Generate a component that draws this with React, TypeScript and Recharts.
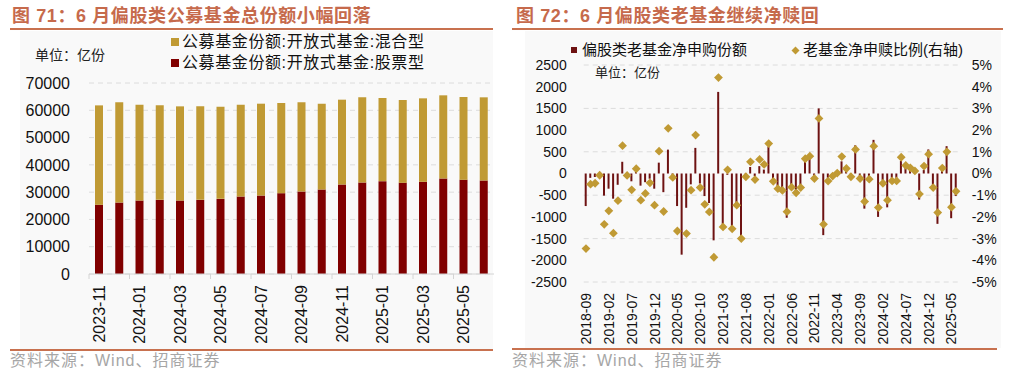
import {
  Bar,
  BarChart,
  CartesianGrid,
  ComposedChart,
  Line,
  XAxis,
  YAxis,
} from "recharts";

// ---- 图71：偏股类公募基金份额（亿份）
const SHARE_MONTHS = [
  "2023-11", "2023-12", "2024-01", "2024-02", "2024-03", "2024-04", "2024-05",
  "2024-06", "2024-07", "2024-08", "2024-09", "2024-10", "2024-11", "2024-12",
  "2025-01", "2025-02", "2025-03", "2025-04", "2025-05", "2025-06",
];
const STOCK_SHARES = [
  25340, 26190, 26930, 27170, 26930, 27170, 27540, 28400, 28760, 29620,
  30230, 30970, 32800, 33540, 34030, 33410, 33780, 35010, 34520, 34270,
];
const HYBRID_SHARES = [
  36460, 36710, 35130, 34640, 34510, 34270, 33780, 33660, 33660, 33050,
  32680, 31450, 31090, 31210, 30470, 30360, 30600, 30470, 30350, 30480,
];
const SHARE_TICKS = [0, 10000, 20000, 30000, 40000, 50000, 60000, 70000];

// ---- 图72：偏股类老基金净申购（亿份）与净申赎比例（%）
const monthRange = (from: string, count: number) => {
  const [y0, m0] = from.split("-").map(Number);
  const out: string[] = [];
  for (let k = 0; k < count; k++) {
    const t = (m0 - 1) + k;
    const y = y0 + Math.floor(t / 12);
    const m = (t % 12) + 1;
    out.push(`${y}-${String(m).padStart(2, "0")}`);
  }
  return out;
};
const FLOW_MONTHS = monthRange("2018-09", 82);
const NET_SUB = [
  -750, -100, -80, -30, -510, -350, -580, -260, 270, -40,
  -180, 40, -280, -200, -120, -350, 250, -430, 550, -30,
  -750, -1870, -790, -250, 590, -230, -520, -680, -1540, 1880,
  -1250, -30, -1280, -680, -1490, -40, 150, -60, 170, 90,
  620, -150, -400, -400, -1020, -290, -450, -330, 340, 410,
  -50, 1500, -1420, -100, -60, 20, 280, 80, -60, 650,
  -80, -810, -100, 775, -1000, -150, -780, -100, -100, 290,
  170, 100, 40, -600, 80, 555, -300, -1160, 80, 630,
  -1030, -520,
];
const NET_RATIO: (number | null)[] = [
  -3.46, -0.49, -0.45, -0.08, -2.34, -1.72, -2.75, -1.25, 1.28, -0.09,
  -0.75, 0.22, -1.23, -0.92, -0.43, -1.46, 1.03, -1.75, 2.08, -0.18,
  -2.65, null, -2.77, -0.77, 1.77, -0.65, -1.42, -1.77, -3.86, 4.42,
  -2.46, 0.17, -2.55, -1.46, -3.0, -0.15, 0.54, -0.28, 0.65, 0.42,
  1.38, -0.36, -0.7, -0.78, -1.76, -0.63, -0.89, -0.65, 0.68, 0.8,
  -0.23, 2.54, -2.34, -0.35, -0.12, 0.02, 0.78, 0.23, -0.15, 1.11,
  -0.23, -1.29, -0.26, 1.26, -1.57, -0.45, -1.23, -0.34, -0.34, 0.75,
  0.37, 0.26, 0.12, -0.95, 0.34, 0.89, -0.65, -1.8, 0.25, 1.0,
  -1.55, -0.82,
];
const FLOW_TICKS = [-2500, -2000, -1500, -1000, -500, 0, 500, 1000, 1500, 2000, 2500];
const RATIO_TICKS = [-5, -4, -3, -2, -1, 0, 1, 2, 3, 4, 5];

const NUM_FONT = "'Liberation Sans', Arial, sans-serif";
const CJK_FONT = "'Liberation Sans', 'Noto Sans CJK SC', sans-serif";
const TITLE_COLOR = "#C66A4C";
const RULE_COLOR = "#C8714F";
const GOLD = "#C09A34";
const RED = "#800000";
const MAROON = "#6E1212";

function MonthTick(props: any) {
  const { x, y, payload, band, size } = props;
  return (
    <g transform={`translate(${x},${y})`}>
      {band ? (
        <line x1={-band / 2} x2={-band / 2} y1={-11} y2={-6} stroke="#D4D4D4" />
      ) : null}
      <text
        transform="rotate(-90)"
        textAnchor="end"
        dy="0.36em"
        fontSize={size}
        fontFamily={NUM_FONT}
        fill="#111"
      >
        {payload.value}
      </text>
    </g>
  );
}

function Diamond(props: any) {
  const { cx, cy, index } = props;
  if (cx == null || cy == null || Number.isNaN(cy)) return <g key={`d-${index}`} />;
  const r = 4.4;
  return (
    <polygon
      key={`d-${index}`}
      points={`${cx},${cy - r} ${cx + r},${cy} ${cx},${cy + r} ${cx - r},${cy}`}
      fill={GOLD}
    />
  );
}

function Title({ left, text }: { left: number; text: string }) {
  return (
    <div
      style={{
        position: "absolute",
        left,
        top: 5,
        fontSize: 18,
        lineHeight: "22px",
        fontWeight: 700,
        letterSpacing: 0.6,
        color: TITLE_COLOR,
        fontFamily: CJK_FONT,
        whiteSpace: "nowrap",
      }}
    >
      {text}
    </div>
  );
}

function Rule({ left, width, top }: { left: number; width: number; top: number }) {
  return (
    <div style={{ position: "absolute", left, top, width, height: 2, background: RULE_COLOR }} />
  );
}

function Source({ left }: { left: number }) {
  return (
    <div
      style={{
        position: "absolute",
        left,
        top: 351,
        fontSize: 16,
        lineHeight: "20px",
        letterSpacing: 1,
        color: "#A6A6A6",
        fontFamily: CJK_FONT,
        whiteSpace: "nowrap",
      }}
    >
      资料来源：Wind、招商证券
    </div>
  );
}

export default function App() {
  const shareData = SHARE_MONTHS.map((m, i) => ({
    month: m,
    stock: STOCK_SHARES[i],
    hybrid: HYBRID_SHARES[i],
  }));
  const flowData = FLOW_MONTHS.map((m, i) => ({
    month: m,
    sub: NET_SUB[i],
    ratio: NET_RATIO[i],
  }));

  return (
    <div
      style={{
        position: "absolute",
        left: 0,
        top: 0,
        width: 1013,
        height: 377,
        background: "#fff",
        overflow: "hidden",
        fontFamily: CJK_FONT,
      }}
    >
      {/* 左图 */}
      <div style={{ position: "absolute", left: 20, top: 31, width: 473, height: 318, background: "#F9F9F9" }} />
      <div style={{ position: "absolute", left: 0, top: 0 }}>
        <BarChart
          width={505}
          height={377}
          data={shareData}
          margin={{ top: 83, right: 11, left: 0, bottom: 0 }}
          barSize={8}
        >
          <CartesianGrid vertical={false} stroke="#DCDCDC" strokeDasharray="5 4" />
          <XAxis
            dataKey="month"
            height={103}
            interval={1}
            axisLine={{ stroke: "#D4D4D4" }}
            tickLine={false}
            tickSize={0}
            tickMargin={11}
            tick={<MonthTick band={405 / 20} size={16} />}
          />
          <YAxis
            width={89}
            domain={[0, 70000]}
            ticks={SHARE_TICKS}
            axisLine={false}
            tickLine={false}
            tickSize={0}
            tickMargin={19}
            tick={{ fontSize: 16, fill: "#111", fontFamily: NUM_FONT }}
          />
          <Bar dataKey="stock" stackId="s" fill={RED} isAnimationActive={false} />
          <Bar dataKey="hybrid" stackId="s" fill={GOLD} isAnimationActive={false} />
        </BarChart>
      </div>
      <Title left={12} text="图 71：6 月偏股类公募基金总份额小幅回落" />
      <Rule left={10} width={483} top={28} />
      <Rule left={10} width={483} top={349} />
      <div style={{ position: "absolute", left: 35, top: 46, fontSize: 14, lineHeight: "18px", color: "#222" }}>
        单位：亿份
      </div>
      <div
        style={{
          position: "absolute",
          left: 171,
          top: 31,
          fontSize: 16,
          lineHeight: "21px",
          letterSpacing: 0.6,
          color: "#111",
          whiteSpace: "nowrap",
        }}
      >
        <div style={{ display: "flex", alignItems: "center" }}>
          <span style={{ width: 8, height: 8, background: GOLD, marginRight: 3 }} />
          公募基金份额:开放式基金:混合型
        </div>
        <div style={{ display: "flex", alignItems: "center" }}>
          <span style={{ width: 8, height: 8, background: RED, marginRight: 3 }} />
          公募基金份额:开放式基金:股票型
        </div>
      </div>
      <Source left={10} />

      {/* 右图 */}
      <div style={{ position: "absolute", left: 525, top: 31, width: 476, height: 317, background: "#F9F9F9" }} />
      <div style={{ position: "absolute", left: 505, top: 0 }}>
        <ComposedChart
          width={508}
          height={377}
          data={flowData}
          margin={{ top: 65, right: 0, left: 0, bottom: 0 }}
          barSize={2}
        >
          <CartesianGrid vertical={false} stroke="#DCDCDC" strokeDasharray="5 4" />
          <XAxis
            dataKey="month"
            height={95}
            interval={4}
            axisLine={false}
            tickLine={false}
            tickSize={0}
            tickMargin={11}
            tick={<MonthTick size={14} />}
          />
          <YAxis
            width={78.7}
            domain={[-2500, 2500]}
            ticks={FLOW_TICKS}
            axisLine={false}
            tickLine={false}
            tickSize={0}
            tickMargin={17}
            tick={{ fontSize: 14, fill: "#111", fontFamily: NUM_FONT }}
          />
          <YAxis
            yAxisId="right"
            orientation="right"
            width={54.7}
            domain={[-5, 5]}
            ticks={RATIO_TICKS}
            axisLine={false}
            tickLine={false}
            tickSize={0}
            tickMargin={13.4}
            tickFormatter={(v: number) => `${v}%`}
            tick={{ fontSize: 14, fill: "#111", fontFamily: NUM_FONT }}
          />
          <Bar dataKey="sub" fill={MAROON} isAnimationActive={false} />
          <Line
            yAxisId="right"
            dataKey="ratio"
            stroke="none"
            strokeWidth={0}
            dot={<Diamond />}
            activeDot={false}
            isAnimationActive={false}
          />
        </ComposedChart>
      </div>
      <Title left={516} text="图 72：6 月偏股类老基金继续净赎回" />
      <Rule left={512} width={491} top={28} />
      <Rule left={512} width={485} top={348} />
      <div style={{ position: "absolute", left: 595, top: 65, fontSize: 13, lineHeight: "16px", color: "#222" }}>
        单位：亿份
      </div>
      <div
        style={{
          position: "absolute",
          left: 571,
          top: 40,
          fontSize: 15,
          lineHeight: "20px",
          color: "#111",
          display: "flex",
          alignItems: "center",
          whiteSpace: "nowrap",
        }}
      >
        <span style={{ width: 6, height: 6, background: MAROON, marginRight: 5 }} />
        偏股类老基金净申购份额
      </div>
      <div
        style={{
          position: "absolute",
          left: 791,
          top: 40,
          fontSize: 15,
          lineHeight: "20px",
          color: "#111",
          display: "flex",
          alignItems: "center",
          whiteSpace: "nowrap",
        }}
      >
        <svg width={9} height={9} style={{ marginRight: 3 }}>
          <polygon points="4.5,0.5 8.5,4.5 4.5,8.5 0.5,4.5" fill={GOLD} />
        </svg>
        老基金净申赎比例(右轴)
      </div>
      <Source left={512} />
    </div>
  );
}
